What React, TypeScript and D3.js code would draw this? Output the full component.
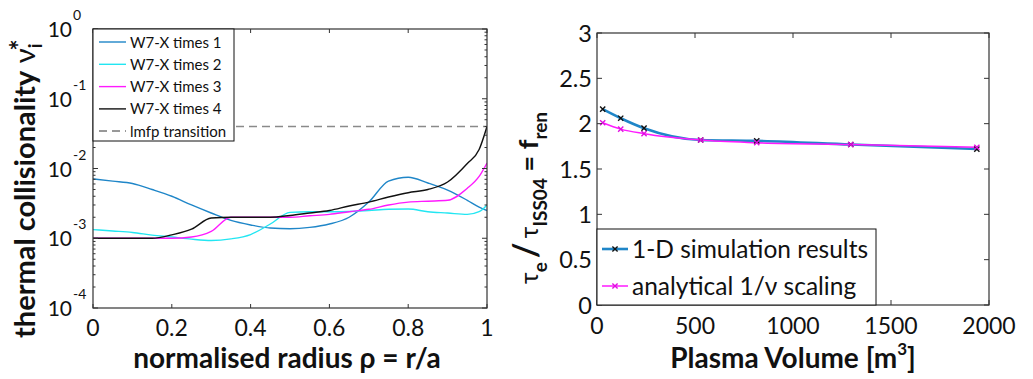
import React from "react";
import * as d3 from "d3";

// Left panel: ion collisionality profiles vs normalised radius
const rho = [0, 0.05, 0.1, 0.15, 0.2, 0.25, 0.3, 0.35, 0.4, 0.45, 0.5, 0.55, 0.6, 0.65, 0.7, 0.75, 0.8, 0.85, 0.9, 0.95, 0.98, 1.0];
const times1 = [0.0071, 0.0066, 0.0061, 0.005, 0.004, 0.003, 0.0023, 0.0018, 0.00155, 0.0014, 0.00137, 0.00143, 0.0016, 0.002, 0.0033, 0.0066, 0.0075, 0.0062, 0.0049, 0.0035, 0.0028, 0.0025];
const times2 = [0.00133, 0.00127, 0.00121, 0.00111, 0.00104, 0.00097, 0.00093, 0.00098, 0.00113, 0.0016, 0.00235, 0.0024, 0.0024, 0.00242, 0.0025, 0.0026, 0.00262, 0.0024, 0.0023, 0.0022, 0.0024, 0.003];
const times3 = [0.001, 0.001, 0.001, 0.001, 0.001, 0.00104, 0.00125, 0.002, 0.002, 0.002, 0.002, 0.0021, 0.0022, 0.0024, 0.0026, 0.003, 0.0033, 0.0034, 0.0035, 0.0052, 0.0077, 0.012];
const times4 = [0.001, 0.001, 0.001, 0.001, 0.00112, 0.00135, 0.00195, 0.002, 0.002, 0.002, 0.00212, 0.0023, 0.0025, 0.0029, 0.0033, 0.0039, 0.0045, 0.005, 0.0064, 0.0118, 0.0187, 0.04];
const lmfpTransition = 0.04;
const profileNames = ["W7-X times 1", "W7-X times 2", "W7-X times 3", "W7-X times 4"];
const profileColors = ["#1f86c8", "#22e6f2", "#ff1aff", "#111111"];
const rhoTicks = [0, 0.2, 0.4, 0.6, 0.8, 1];
const nuExponents = [0, -1, -2, -3, -4];

// Right panel: confinement renormalisation factor vs plasma volume
const volume = [29, 121, 240, 529, 815, 1295, 1938];
const simResults = [2.16, 2.06, 1.95, 1.82, 1.81, 1.77, 1.72];
const analyticScaling = [2.01, 1.94, 1.89, 1.82, 1.79, 1.77, 1.74];
const volumeTicks = [0, 500, 1000, 1500, 2000];
const renTicks = [0, 0.5, 1, 1.5, 2, 2.5, 3];
const renTickLabels = ["0", "0.5", "1", "1.5", "2", "2.5", "3"];

const FONT = "Lato, 'Open Sans', sans-serif";
const AXIS = "#333";

function Cross({ x, y, color }: { x: number; y: number; color: string }) {
  const s = 2.6;
  return (
    <path
      d={`M${x - s},${y - s}L${x + s},${y + s}M${x - s},${y + s}L${x + s},${y - s}`}
      stroke={color}
      strokeWidth={1.4}
    />
  );
}

function LeftPanel() {
  const L = 93, R = 487, T = 29, B = 308;
  const x = d3.scaleLinear().domain([0, 1]).range([L, R]);
  const y = d3.scaleLog().domain([1e-4, 1]).range([B, T]);
  const series = [times1, times2, times3, times4];
  const line = d3
    .line<number>()
    .x((_, i) => x(rho[i]))
    .y((v) => y(v))
    .curve(d3.curveMonotoneX);

  const minor: number[] = [];
  for (let e = -4; e < 0; e++) for (let m = 2; m <= 9; m++) minor.push(m * Math.pow(10, e));

  return (
    <g fontFamily={FONT}>
      <defs>
        <clipPath id="leftClip">
          <rect x={L} y={T} width={R - L} height={B - T} />
        </clipPath>
      </defs>
      <g clipPath="url(#leftClip)">
        <line x1={x(0)} x2={x(1)} y1={y(lmfpTransition)} y2={y(lmfpTransition)} stroke="#8a8a8a" strokeWidth={1.3} strokeDasharray="8,5" />
        {series.map((s, k) => (
          <path key={k} d={line(s) || ""} fill="none" stroke={profileColors[k]} strokeWidth={1.4} />
        ))}
      </g>
      {/* ticks */}
      {rhoTicks.map((t) => (
        <g key={t}>
          <line x1={x(t)} x2={x(t)} y1={B} y2={B - 4} stroke={AXIS} />
          <line x1={x(t)} x2={x(t)} y1={T} y2={T + 4} stroke={AXIS} />
          <text x={x(t)} y={336} textAnchor="middle" fontSize={23} fill="#111">
            {String(t)}
          </text>
        </g>
      ))}
      {nuExponents.map((e) => (
        <g key={e}>
          <line x1={L} x2={L + 5} y1={y(Math.pow(10, e))} y2={y(Math.pow(10, e))} stroke={AXIS} />
          <line x1={R} x2={R - 5} y1={y(Math.pow(10, e))} y2={y(Math.pow(10, e))} stroke={AXIS} />
          <text x={72} y={y(Math.pow(10, e)) + 8} textAnchor="end" fontSize={21} fill="#111">
            10
          </text>
          <text x={73} y={y(Math.pow(10, e)) - 9} textAnchor="start" fontSize={14} fill="#111">
            {String(e)}
          </text>
        </g>
      ))}
      {minor.map((m, i) => (
        <g key={i}>
          <line x1={L} x2={L + 2.5} y1={y(m)} y2={y(m)} stroke={AXIS} />
          <line x1={R} x2={R - 2.5} y1={y(m)} y2={y(m)} stroke={AXIS} />
        </g>
      ))}
      <rect x={L} y={T} width={R - L} height={B - T} fill="none" stroke={AXIS} strokeWidth={1.2} />

      {/* legend */}
      <rect x={L} y={T} width={141} height={112} fill="#fff" stroke="#111" strokeWidth={1} />
      {profileNames.map((n, k) => (
        <g key={n}>
          <line x1={99} x2={126} y1={42 + k * 22.3} y2={42 + k * 22.3} stroke={profileColors[k]} strokeWidth={1.4} />
          <text x={130} y={42 + k * 22.3 + 5.5} fontSize={15} fill="#111">
            {n}
          </text>
        </g>
      ))}
      <line x1={99} x2={126} y1={131} y2={131} stroke="#333" strokeWidth={1} strokeDasharray="8,5" />
      <text x={130} y={136.5} fontSize={15} fill="#111">
        lmfp transition
      </text>

      {/* axis titles */}
      <text x={287} y={368} textAnchor="middle" fontSize={28} fontWeight="bold" fill="#111">
        normalised radius ρ = r/a
      </text>
      <text transform="translate(35,338) rotate(-90)" fontSize={29} fontWeight="bold" fill="#111">
        thermal collisionality
        <tspan fontWeight="normal"> ν</tspan>
        <tspan fontSize={19} dy={7}>i</tspan>
        <tspan fontSize={26} dx={-7} dy={-13}>*</tspan>
      </text>
    </g>
  );
}

function RightPanel() {
  const L = 597, R = 989, T = 33, B = 305;
  const x = d3.scaleLinear().domain([0, 2000]).range([L, R]);
  const y = d3.scaleLinear().domain([0, 3]).range([B, T]);
  const line = d3
    .line<number>()
    .x((_, i) => x(volume[i]))
    .y((v) => y(v))
    .curve(d3.curveMonotoneX);

  return (
    <g fontFamily={FONT}>
      <path d={line(simResults) || ""} fill="none" stroke="#1f86c8" strokeWidth={2.6} />
      <path d={line(analyticScaling) || ""} fill="none" stroke="#ff1aff" strokeWidth={1.5} />
      {volume.map((v, i) => (
        <Cross key={"s" + i} x={x(v)} y={y(simResults[i])} color="#111" />
      ))}
      {volume.map((v, i) => (
        <Cross key={"a" + i} x={x(v)} y={y(analyticScaling[i])} color="#e010e0" />
      ))}
      {volumeTicks.map((t) => (
        <g key={t}>
          <line x1={x(t)} x2={x(t)} y1={B} y2={B - 5} stroke={AXIS} />
          <line x1={x(t)} x2={x(t)} y1={T} y2={T + 5} stroke={AXIS} />
          <text x={x(t)} y={334} textAnchor="middle" fontSize={23} fill="#111">
            {String(t)}
          </text>
        </g>
      ))}
      {renTicks.map((t, i) => (
        <g key={t}>
          <line x1={L} x2={L + 5} y1={y(t)} y2={y(t)} stroke={AXIS} />
          <line x1={R} x2={R - 5} y1={y(t)} y2={y(t)} stroke={AXIS} />
          <text x={592} y={y(t) + 8.5} textAnchor="end" fontSize={23.5} fill="#111">
            {renTickLabels[i]}
          </text>
        </g>
      ))}
      <rect x={L} y={T} width={R - L} height={B - T} fill="none" stroke={AXIS} strokeWidth={1.2} />

      {/* legend */}
      <rect x={L} y={229} width={279} height={76} fill="#fff" stroke="#111" strokeWidth={1} />
      <line x1={602} x2={628} y1={249} y2={249} stroke="#1f86c8" strokeWidth={2.6} />
      <Cross x={615} y={249} color="#111" />
      <text x={632} y={257.5} fontSize={24.5} fill="#111">
        1-D simulation results
      </text>
      <line x1={602} x2={628} y1={286} y2={286} stroke="#ff1aff" strokeWidth={1.5} />
      <Cross x={615} y={286} color="#e010e0" />
      <text x={632} y={294.5} fontSize={24.5} fill="#111">
        analytical 1/ν scaling
      </text>

      {/* axis titles */}
      <text x={793} y={368} textAnchor="middle" fontSize={28} fontWeight="bold" fill="#111">
        Plasma Volume [m<tspan fontSize={17} dy={-13}>3</tspan>
        <tspan dy={13}>]</tspan>
      </text>
      <text transform="translate(538,284) rotate(-90)" fontSize={25} fill="#111">
        τ
        <tspan fontSize={19} fontWeight="bold" dy={9}>e</tspan>
        <tspan fontSize={34} fontWeight="bold" dy={-9} dx={4}>/</tspan>
        <tspan dx={4}>τ</tspan>
        <tspan fontSize={19} fontWeight="bold" dy={9}>ISS04</tspan>
        <tspan fontWeight="bold" fontSize={27} dy={-9}> = f</tspan>
        <tspan fontSize={19} fontWeight="bold" dy={9}>ren</tspan>
      </text>
    </g>
  );
}

export default function App() {
  return (
    <svg
      width={1033}
      height={379}
      viewBox="0 0 1033 379"
      style={{ position: "absolute", left: 0, top: 0, background: "#fff" }}
    >
      <rect width={1033} height={379} fill="#fff" />
      <LeftPanel />
      <RightPanel />
    </svg>
  );
}
